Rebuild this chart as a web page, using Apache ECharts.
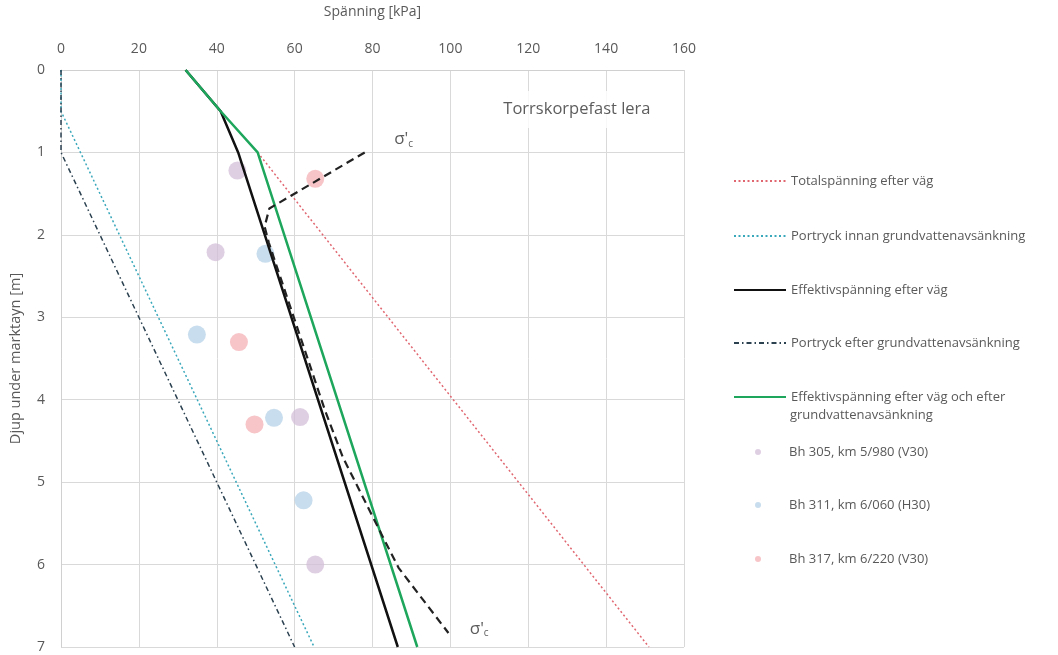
<!DOCTYPE html>
<html>
<head>
<meta charset="utf-8">
<script src="https://cdn.jsdelivr.net/npm/echarts@6/dist/echarts.min.js"></script>
<style>
html,body{margin:0;padding:0;background:#fff;}
#main{width:1058px;height:655px;}
</style>
</head>
<body>
<div id="main"></div>
<script>
// ---- Data (stress in kPa, depth in m) ----
const xTicks = [0, 20, 40, 60, 80, 100, 120, 140, 160];
const yTicks = [0, 1, 2, 3, 4, 5, 6, 7];

const totalStress = [50.5, 151];
const totalDepth = [1, 7];

const poreBeforeStress = [0, 0, 65];
const poreBeforeDepth = [0, 0.5, 7];

const effStress = [32, 41, 45.5, 86.5];
const effDepth = [0, 0.5, 1, 7];

const poreAfterStress = [0, 0, 60];
const poreAfterDepth = [0, 1, 7];

const effAfterStress = [32, 41, 50.5, 91.5];
const effAfterDepth = [0, 0.5, 1, 7];

const sigmaCStress = [78, 53.5, 52.3, 53.4, 67.8, 72.4, 82.4, 86.7, 99.5];
const sigmaCDepth = [1.0, 1.68, 1.9, 2.1, 4.13, 4.7, 5.64, 6.04, 6.83];

const bh305Stress = [45.3, 39.7, 61.4, 65.3];
const bh305Depth = [1.22, 2.21, 4.21, 6.0];
const bh311Stress = [52.5, 34.9, 54.7, 62.3];
const bh311Depth = [2.23, 3.21, 4.22, 5.22];
const bh317Stress = [65.3, 45.7, 49.7];
const bh317Depth = [1.32, 3.3, 4.3];

const names = [
  'Totalspänning efter väg',
  'Portryck innan grundvattenavsänkning',
  'Effektivspänning efter väg',
  'Portryck efter grundvattenavsänkning',
  'Effektivspänning efter väg och efter\ngrundvattenavsänkning',
  'Bh 305, km 5/980 (V30)',
  'Bh 311, km 6/060 (H30)',
  'Bh 317, km 6/220 (V30)'
];

// annotation texts and their positions in data units
const annoTexts = ["σ'{c|c}", "σ'{c|c}", 'Torrskorpefast lera'];
const annoStress = [88, 107.4, 132.5];
const annoDepth = [0.84, 6.78, 0.48];

const zip = (xs, ys) => xs.map((x, i) => [x, ys[i]]);

const FONT = '"Open Sans", Roboto, sans-serif';
const TXT = '#595959';

function lineSeries(name, xs, ys, color, width, type, z) {
  return {
    name, type: 'line', data: zip(xs, ys), symbol: 'none', z: z || 3,
    lineStyle: { color, width, type }, itemStyle: { color },
    animation: false
  };
}
function scatterSeries(name, xs, ys, color) {
  return {
    name, type: 'scatter', data: zip(xs, ys), symbolSize: 18, z: 1,
    itemStyle: { color, opacity: 0.72 }, animation: false
  };
}

const legendTops = [172, 227, 281, 334, 388, 443, 496, 550];
const legends = names.map((n, i) => {
  const l = {
    data: [n],
    left: i >= 5 ? 755 : 733,
    top: legendTops[i],
    padding: 0,
    orient: 'vertical',
    itemWidth: 52,
    itemHeight: i >= 5 ? 6 : 14,
    itemGap: 5,
    selectedMode: false,
    formatter: nm => nm.split('\n')[0],
    textStyle: { color: TXT, fontSize: 13, fontFamily: FONT, lineHeight: 18 }
  };
  if (i < 5) l.itemStyle = { opacity: 0 };
  return l;
});

const chart = echarts.init(document.getElementById('main'));
chart.setOption({
  backgroundColor: '#fff',
  animation: false,
  grid: { left: 58, top: 69, width: 626, height: 578, containLabel: false },
  legend: legends,
  graphic: [{
    type: 'text', left: 790, top: 409, silent: true,
    style: { text: names[4].split('\n')[1], fill: TXT, fontSize: 13, fontFamily: FONT }
  }],
  xAxis: {
    type: 'value', position: 'top', min: 0, max: 160, interval: 20,
    name: 'Spänning [kPa]', nameLocation: 'middle', nameGap: 51,
    nameTextStyle: { color: TXT, fontSize: 14, fontFamily: FONT },
    axisLine: { show: true, lineStyle: { color: '#d0d0d0' } },
    axisTick: { show: false },
    axisLabel: { color: TXT, fontSize: 14, fontFamily: FONT, margin: 14,
      formatter: v => xTicks.includes(v) ? String(v) : '' },
    splitLine: { show: true, lineStyle: { color: '#d9d9d9', width: 1 } }
  },
  yAxis: {
    type: 'value', inverse: true, min: 0, max: 7, interval: 1,
    name: 'Djup under marktayn [m]', nameLocation: 'middle', nameGap: 38, nameRotate: 90,
    nameTextStyle: { color: TXT, fontSize: 14.5, fontFamily: FONT },
    axisLine: { show: true, lineStyle: { color: '#d0d0d0' } },
    axisTick: { show: false },
    axisLabel: { color: TXT, fontSize: 14, fontFamily: FONT, margin: 16,
      formatter: v => yTicks.includes(v) ? String(v) : '' },
    splitLine: { show: true, lineStyle: { color: '#d9d9d9', width: 1 } }
  },
  series: [
    lineSeries(names[0], totalStress, totalDepth, '#e06670', 1.5, [2, 2.5], 3),
    lineSeries(names[1], poreBeforeStress, poreBeforeDepth, '#3aa8bb', 1.5, [2, 2.5], 3),
    lineSeries(names[2], effStress, effDepth, '#111111', 2.5, 'solid', 4),
    lineSeries(names[3], poreAfterStress, poreAfterDepth, '#2b4150', 1.5, [5, 3, 1.5, 3], 3),
    lineSeries(names[4], effAfterStress, effAfterDepth, '#1ea75c', 2.5, 'solid', 5),
    scatterSeries(names[5], bh305Stress, bh305Depth, '#d3bcd8'),
    scatterSeries(names[6], bh311Stress, bh311Depth, '#b3d0e6'),
    scatterSeries(names[7], bh317Stress, bh317Depth, '#f4adb3'),
    {
      name: 'sigmaC', type: 'line', data: zip(sigmaCStress, sigmaCDepth), symbol: 'none', z: 6,
      lineStyle: { color: '#222', width: 2.2, type: [8, 5] }, animation: false
    },
    {
      name: 'annotations', type: 'scatter', z: 7, silent: true, animation: false,
      data: zip(annoStress, annoDepth).map((c, i) => ({
        value: c, text: annoTexts[i],
        label: i === 2
          ? { fontSize: 16.5, backgroundColor: '#fff', padding: [10, 16, 10, 16] }
          : { fontSize: 17 }
      })),
      symbolSize: 1,
      itemStyle: { color: 'rgba(0,0,0,0)' },
      label: {
        show: true, position: 'inside', color: '#333', fontFamily: FONT,
        formatter: p => p.data.text,
        rich: { c: { fontSize: 10, padding: [9, 0, 0, 0], color: '#333', fontFamily: FONT } }
      },
      labelLayout: { hideOverlap: false }
    }
  ]
});
</script>
</body>
</html>
